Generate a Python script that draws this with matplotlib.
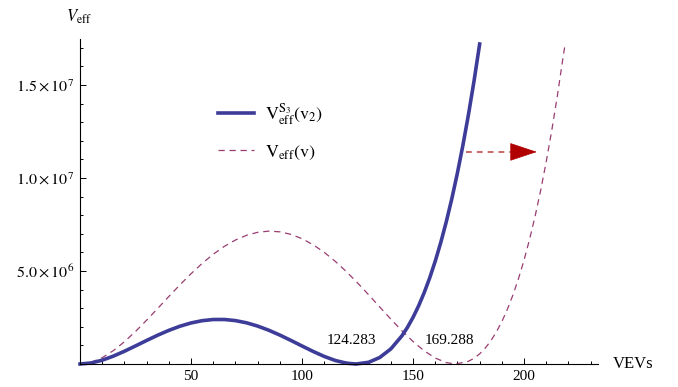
import matplotlib
matplotlib.use("Agg")
import matplotlib.pyplot as plt
from matplotlib.ticker import MultipleLocator, FixedLocator

plt.rcParams['font.family'] = ['Liberation Serif', 'DejaVu Serif']
plt.rcParams['mathtext.fontset'] = 'stix'

# values
v_s3 = [0, 5, 10, 15, 20, 25, 30, 35, 40, 45, 50, 55, 60, 65, 70, 75, 80, 85,
        90, 95, 100, 105, 110, 115, 120, 124.283, 130, 135, 140, 145, 147.5,
        150, 152.5, 155, 157.5, 160, 162.5, 165, 167.5, 170, 172.5, 175,
        177.5, 180]
veff_s3 = [0, 0.055e6, 0.204e6, 0.422e6, 0.684e6, 0.972e6, 1.265e6, 1.549e6,
           1.807e6, 2.030e6, 2.206e6, 2.328e6, 2.391e6, 2.393e6, 2.333e6,
           2.214e6, 2.039e6, 1.816e6, 1.555e6, 1.267e6, 0.968e6, 0.675e6,
           0.407e6, 0.189e6, 0.044e6, 0, 0.092e6, 0.350e6, 0.811e6, 1.516e6,
           1.973e6, 2.507e6, 3.123e6, 3.828e6, 4.628e6, 5.529e6, 6.537e6,
           7.661e6, 8.905e6, 10.277e6, 11.786e6, 13.437e6, 15.239e6, 17.20e6]

v_full = [0, 5, 10, 15, 20, 25, 30, 35, 40, 45, 50, 55, 60, 65, 70, 75, 80, 85,
          90, 95, 100, 105, 110, 115, 120, 125, 130, 135, 140, 145, 150, 155,
          160, 165, 169.288, 175, 177.5, 180, 182.5, 185, 187.5, 190, 192.5,
          195, 197.5, 200, 202.5, 205, 207.5, 210, 212.5, 215, 217.5, 218.5]
veff_full = [0, 0.090e6, 0.338e6, 0.716e6, 1.195e6, 1.749e6, 2.354e6, 2.987e6,
             3.627e6, 4.255e6, 4.852e6, 5.405e6, 5.899e6, 6.322e6, 6.664e6,
             6.919e6, 7.079e6, 7.142e6, 7.105e6, 6.968e6, 6.736e6, 6.411e6,
             6.001e6, 5.514e6, 4.963e6, 4.360e6, 3.721e6, 3.065e6, 2.411e6,
             1.784e6, 1.207e6, 0.709e6, 0.320e6, 0.073e6, 0, 0.146e6, 0.311e6,
             0.545e6, 0.853e6, 1.241e6, 1.716e6, 2.282e6, 2.945e6, 3.713e6,
             4.592e6, 5.588e6, 6.708e6, 7.959e6, 9.348e6, 10.882e6, 12.570e6,
             14.418e6, 16.435e6, 17.20e6]

minima = [124.283, 169.288]
min_labels = ["124.283", "169.288"]

arrow_y = 1.14e7
arrow_x = [174, 207]

fig = plt.figure(figsize=(6.78, 3.87), dpi=100)
ax = fig.add_axes([80 / 678, 23 / 387, 518 / 678, 325 / 387])

ax.plot(v_full, veff_full, color='#993d71', lw=0.9, ls=(0, (5, 3.8)),
        clip_on=False, label=r'$\mathrm{V}_{\mathrm{eff}}(\mathrm{v})$')
ax.plot(v_s3, veff_s3, color='#3d3d99', lw=2.6, clip_on=False,
        label=r'$\mathrm{V}_{\mathrm{eff}}^{\mathrm{S}_3}(\mathrm{v}_2)$')

# arrow: dashed shaft + solid head
ax.plot([arrow_x[0], arrow_x[1] - 10], [arrow_y, arrow_y], color='#c0504d',
        lw=1.2, ls=(0, (3.5, 3)))
ax.annotate('', xy=(arrow_x[1], arrow_y), xytext=(arrow_x[1] - 12, arrow_y),
            arrowprops=dict(arrowstyle='-|>,head_length=0.9,head_width=0.3',
                            mutation_scale=20, color='#b00000', lw=0.5))

ax.text(minima[0] - 2, 1.29e6, min_labels[0], ha='center', va='center',
        fontsize=11)
ax.text(minima[1] - 3, 1.29e6, min_labels[1], ha='center', va='center',
        fontsize=11)

ax.set_xlim(0, 233.3)
ax.set_ylim(0, 1.747e7)

for s in ['top', 'right']:
    ax.spines[s].set_visible(False)
for s in ['left', 'bottom']:
    ax.spines[s].set_linewidth(0.8)

ax.xaxis.set_major_locator(FixedLocator([50, 100, 150, 200]))
ax.xaxis.set_minor_locator(MultipleLocator(10))
ax.set_xticklabels(['50', '100', '150', '200'])
ax.yaxis.set_major_locator(FixedLocator([5e6, 1e7, 1.5e7]))
ax.yaxis.set_minor_locator(MultipleLocator(1e6))
ax.set_yticklabels([r'$5.0\times10^{6}$', r'$1.0\times10^{7}$',
                    r'$1.5\times10^{7}$'])
ax.tick_params(which='both', direction='in', width=0.7)
ax.tick_params(which='major', length=4.5)
ax.tick_params(which='minor', length=2.5)
ax.tick_params(axis='x', pad=4, labelsize=11)
ax.tick_params(axis='y', pad=4, labelsize=11.5)

ax.text(1.029, 0, 'VEVs', transform=ax.transAxes, ha='left', va='center',
        fontsize=12)
fig.text(79 / 678, 1 - 17 / 387, r'$V_{\mathrm{eff}}$', ha='center',
         va='center', fontsize=12)

handles, labels = ax.get_legend_handles_labels()
ax.legend(handles[::-1], labels[::-1], loc='upper left',
          bbox_to_anchor=(122 / 518, 1 - 46 / 325), frameon=False,
          fontsize=13, handlelength=2.0, handletextpad=0.6, labelspacing=0.9)

fig.savefig('out.png', dpi=100)
